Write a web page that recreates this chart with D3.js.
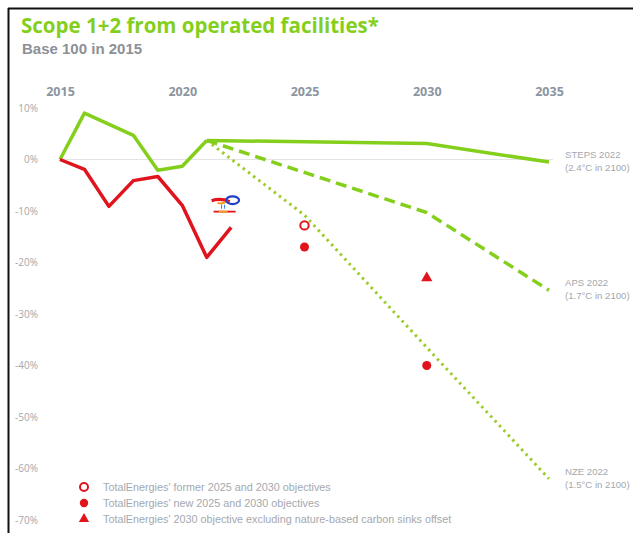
<!DOCTYPE html>
<html>
<head>
<meta charset="utf-8">
<script src="https://cdn.jsdelivr.net/npm/d3@7"></script>
<style>
  html, body { margin: 0; padding: 0; background: #fff; }
  svg { display: block; font-family: "Open Sans", "Noto Sans", sans-serif; }
</style>
</head>
<body>
<svg id="chart" width="633" height="533"></svg>
<script>
// ---- data ----
const yearTicks = [2015, 2020, 2025, 2030, 2035];
const pctTicks = [10, 0, -10, -20, -30, -40, -50, -60, -70];

const greenYears = [2015, 2016, 2018, 2019, 2020, 2021];
const greenValues = [0, 9, 4.7, -2.1, -1.3, 3.7];

const redYears = [2015, 2016, 2017, 2018, 2019, 2020, 2021, 2022];
const redValues = [0, -1.9, -9.1, -4.1, -3.3, -8.9, -19, -13.2];

const scenarioNames = ["STEPS 2022", "APS 2022", "NZE 2022"];
const scenarioSub = ["(2.4°C in 2100)", "(1.7°C in 2100)", "(1.5°C in 2100)"];
const stepsYears = [2021, 2030, 2035];
const stepsValues = [3.7, 3.1, -0.5];
const apsYears = [2021, 2030, 2035];
const apsValues = [3.7, -10.3, -25.4];
const nzeYears = [2021, 2025, 2030, 2035];
const nzeValues = [3.7, -10.8, -36.5, -62];

const formerYears = [2025];
const formerValues = [-12.8];
const newYears = [2025, 2030];
const newValues = [-17, -40];
const exclYears = [2030];
const exclValues = [-23];

const legendLabels = [
  "TotalEnergies' former 2025 and 2030 objectives",
  "TotalEnergies' new 2025 and 2030 objectives",
  "TotalEnergies' 2030 objective excluding nature-based carbon sinks offset"
];

// ---- drawing ----
const GREEN = "#84cf1c";
const RED = "#e1131d";
const GREY = "#a4a8ad";

const svg = d3.select("#chart");
const x = d3.scaleLinear().domain([2015, 2035]).range([60, 549]);
const y = d3.scaleLinear().domain([10, -70]).range([108, 520]);

// frame
svg.append("line").attr("x1", 8).attr("x2", 633).attr("y1", 8.5).attr("y2", 8.5)
  .attr("stroke", "#111").attr("stroke-width", 2);
svg.append("line").attr("x1", 8.5).attr("x2", 8.5).attr("y1", 8).attr("y2", 533)
  .attr("stroke", "#111").attr("stroke-width", 2);

// title
svg.append("text").attr("x", 21).attr("y", 33)
  .attr("fill", GREEN).attr("font-size", 20.5).attr("font-weight", 700)
  .text("Scope 1+2 from operated facilities*");
svg.append("text").attr("x", 22).attr("y", 54)
  .attr("fill", "#8d9096").attr("font-size", 15).attr("font-weight", 700)
  .attr("font-family", "'Liberation Sans', Arial, sans-serif")
  .text("Base 100 in 2015");

// top axis (years)
const xAxis = svg.append("g").attr("transform", "translate(0,99)")
  .call(d3.axisTop(x).tickValues(yearTicks).tickSize(0).tickFormat(d3.format("d")));
xAxis.select(".domain").remove();
xAxis.selectAll("text").attr("fill", "#8c95a0").attr("font-size", 12.5)
  .attr("font-weight", 700).attr("font-family", "'Open Sans', sans-serif");

// left axis (percent)
const yAxis = svg.append("g").attr("transform", "translate(38,0)")
  .call(d3.axisLeft(y).tickValues(pctTicks).tickSize(0).tickPadding(0).tickFormat(d => d + "%"));
yAxis.select(".domain").remove();
yAxis.selectAll("text").attr("fill", GREY).attr("font-size", 10)
  .attr("font-family", "'Open Sans', sans-serif");

// zero line
svg.append("line").attr("x1", x(2015)).attr("x2", x(2035) + 4)
  .attr("y1", y(0)).attr("y2", y(0)).attr("stroke", "#e3e3e3").attr("stroke-width", 1);

const line = d3.line().x(d => x(d[0])).y(d => y(d[1]));
const zip = (a, b) => a.map((v, i) => [v, b[i]]);

// scenarios
svg.append("path").datum(zip(nzeYears, nzeValues)).attr("d", line)
  .attr("fill", "none").attr("stroke", "#9ccc2a").attr("stroke-width", 3)
  .attr("stroke-dasharray", "2.5,4").attr("stroke-linecap", "butt");
svg.append("path").datum(zip(apsYears, apsValues)).attr("d", line)
  .attr("fill", "none").attr("stroke", GREEN).attr("stroke-width", 3.5)
  .attr("stroke-dasharray", "11,6");
svg.append("path").datum(zip(stepsYears, stepsValues)).attr("d", line)
  .attr("fill", "none").attr("stroke", GREEN).attr("stroke-width", 3.5)
  .attr("stroke-linejoin", "round");

// historical
svg.append("path").datum(zip(greenYears, greenValues)).attr("d", line)
  .attr("fill", "none").attr("stroke", GREEN).attr("stroke-width", 3.5)
  .attr("stroke-linejoin", "round");
svg.append("path").datum(zip(redYears, redValues)).attr("d", line)
  .attr("fill", "none").attr("stroke", RED).attr("stroke-width", 3.5)
  .attr("stroke-linejoin", "round");

// scenario labels
const endVals = [stepsValues[stepsValues.length - 1], apsValues[apsValues.length - 1], nzeValues[nzeValues.length - 1]];
const labX = x(2035) + 16;
scenarioNames.forEach((n, i) => {
  const t = svg.append("text").attr("x", labX).attr("y", y(endVals[i]) - 4)
    .attr("fill", GREY).attr("font-size", 9.6).attr("font-family", "'Liberation Sans', sans-serif");
  t.append("tspan").attr("x", labX).text(n);
  t.append("tspan").attr("x", labX).attr("dy", 13).text(scenarioSub[i]);
});

// objectives markers
const tri = d3.symbol().type(d3.symbolTriangle).size(55);
svg.selectAll(".former").data(zip(formerYears, formerValues)).join("circle")
  .attr("cx", d => x(d[0])).attr("cy", d => y(d[1])).attr("r", 4.2)
  .attr("fill", "#fff").attr("stroke", RED).attr("stroke-width", 2);
svg.selectAll(".newobj").data(zip(newYears, newValues)).join("circle")
  .attr("cx", d => x(d[0])).attr("cy", d => y(d[1])).attr("r", 4.5).attr("fill", RED);
svg.selectAll(".excl").data(zip(exclYears, exclValues)).join("path")
  .attr("transform", d => `translate(${x(d[0])},${y(d[1])})`).attr("d", tri).attr("fill", RED);

// small TotalEnergies logo
const lg = svg.append("g").attr("transform", `translate(${x(2021.2)},${y(-8.2)})`);
lg.append("path").attr("d", "M0,-1 Q9,-4 18,0").attr("fill", "none").attr("stroke", RED).attr("stroke-width", 3.2);
lg.append("path").attr("d", "M6,1 Q11,3 16,-1").attr("fill", "none").attr("stroke", "#f0a020").attr("stroke-width", 2);
lg.append("ellipse").attr("cx", 21).attr("cy", -1.5).attr("rx", 6.5).attr("ry", 3.8)
  .attr("fill", "none").attr("stroke", "#1f3fc8").attr("stroke-width", 2.2);
lg.append("path").attr("d", "M10,3 L10,7 M13,3 L13,7").attr("stroke", "#3a7bd5").attr("stroke-width", 1);
lg.append("rect").attr("x", 2).attr("y", 9).attr("width", 22).attr("height", 1.8).attr("fill", RED);
lg.append("rect").attr("x", 7).attr("y", 9).attr("width", 9).attr("height", 1.8).attr("fill", "#f0a020");

// legend
const lx = 84, ly0 = 487, ldy = 16;
const leg = svg.append("g");
leg.append("circle").attr("cx", lx).attr("cy", ly0).attr("r", 4)
  .attr("fill", "#fff").attr("stroke", RED).attr("stroke-width", 2);
leg.append("circle").attr("cx", lx).attr("cy", ly0 + ldy).attr("r", 4.2).attr("fill", RED);
leg.append("path").attr("transform", `translate(${lx},${ly0 + 2 * ldy})`)
  .attr("d", d3.symbol().type(d3.symbolTriangle).size(45)).attr("fill", RED);
legendLabels.forEach((t, i) => {
  leg.append("text").attr("x", 103).attr("y", ly0 + i * ldy + 3.5)
    .attr("fill", GREY).attr("font-size", 10.8).attr("font-family", "'Liberation Sans', sans-serif")
    .text(t);
});
</script>
</body>
</html>
